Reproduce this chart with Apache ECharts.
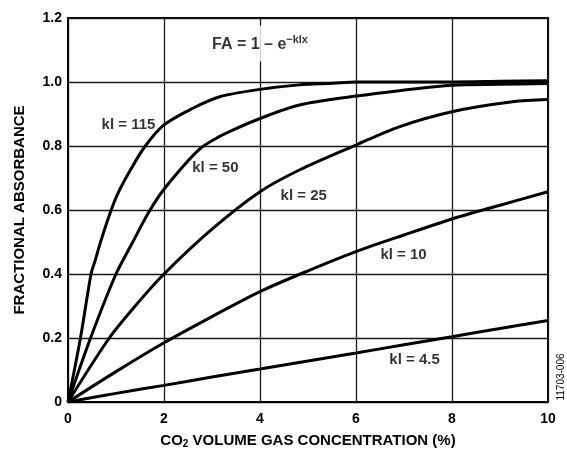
<!DOCTYPE html>
<html lang="en">
<head>
    <meta charset="UTF-8">
    <title>Fractional absorbance vs CO2 concentration</title>
    <style>
        html, body { margin: 0; padding: 0; background: #fff; }
        #container { width: 567px; height: 450px; }
    </style>
</head>
<body>
    <div id="container"></div>
    <script src="https://cdn.jsdelivr.net/npm/echarts@6/dist/echarts.min.js"></script>
    <script>
        // curves (x = CO2 %, y = fractional absorbance)
        const kl115X = [0, 0.26, 0.48, 0.57, 0.69, 0.9, 1.04, 1.3, 1.61, 2, 2.6, 3.16, 4, 4.82, 5.52, 6, 7, 8, 9, 10];
        const kl115Y = [0, 0.2, 0.4, 0.444, 0.506, 0.6, 0.652, 0.725, 0.8, 0.866, 0.918, 0.954, 0.977, 0.991, 0.996, 1.0, 1.0, 1.0, 1.002, 1.004];

        const kl50X = [0, 0.47, 1.0, 1.35, 1.67, 2, 2.74, 3.16, 3.51, 4, 4.82, 6, 6.9, 8, 9, 10];
        const kl50Y = [0, 0.2, 0.4, 0.5, 0.59, 0.665, 0.79, 0.83, 0.855, 0.886, 0.928, 0.956, 0.973, 0.99, 0.993, 0.995];

        const kl25X = [0, 0.86, 1.4, 2, 3, 4, 4.82, 6, 6.9, 8, 9.26, 10];
        const kl25Y = [0, 0.2, 0.3, 0.4, 0.54, 0.657, 0.725, 0.803, 0.86, 0.907, 0.938, 0.945];

        const kl10X = [0, 1, 2, 3, 4, 5, 6, 7, 8, 9, 10];
        const kl10Y = [0, 0.095, 0.185, 0.267, 0.345, 0.41, 0.47, 0.522, 0.572, 0.615, 0.657];

        const kl45X = [0, 1, 2, 3, 4, 5, 6, 7, 8, 9, 10];
        const kl45Y = [0, 0.027, 0.052, 0.078, 0.103, 0.128, 0.153, 0.179, 0.204, 0.23, 0.255];

        // curve labels, anchored in data coordinates
        const labelText = ['kl = 115', 'kl = 50', 'kl = 25', 'kl = 10', 'kl = 4.5'];
        const labelX = [1.26, 3.07, 4.91, 6.99, 7.22];
        const labelY = [0.866, 0.731, 0.644, 0.459, 0.131];

        const xTicks = [0, 2, 4, 6, 8, 10];
        const yTicks = [0, 0.2, 0.4, 0.6, 0.8, 1.0, 1.2];

        const FONT = '"Liberation Sans", Arial, Helvetica, sans-serif';

        function pairs(xs, ys) {
            return xs.map((x, i) => [x, ys[i]]);
        }

        function curve(name, xs, ys) {
            return {
                name: name,
                type: 'line',
                data: pairs(xs, ys),
                smooth: 0.3,
                symbol: 'none',
                lineStyle: { color: '#000', width: 3 },
                silent: true,
                z: 3
            };
        }

        const labelData = labelText.map((t, i) => ({ value: [labelX[i], labelY[i]], name: t }));
        labelData.push({
            value: [4, 1.12],
            name: 'eq',
            label: {
                formatter: '{m|FA = 1 – e}{sup|−klx}',
                backgroundColor: '#fff',
                padding: [9, 8, 8, 8],
                rich: {
                    m: { fontFamily: FONT, fontWeight: 'bold', fontSize: 16, lineHeight: 19, color: '#000' },
                    sup: { fontFamily: FONT, fontWeight: 'bold', fontSize: 11, lineHeight: 11, verticalAlign: 'top', color: '#000' }
                }
            }
        });

        const option = {
            animation: false,
            backgroundColor: '#fff',
            grid: {
                left: 68, right: 19, top: 18, bottom: 48,
                show: true,
                borderColor: '#000',
                borderWidth: 2,
                outerBoundsMode: 'none'
            },
            xAxis: {
                type: 'value',
                min: 0, max: 10, interval: 2,
                name: '{t|CO}{sub|2}{t| VOLUME GAS CONCENTRATION (%)}',
                nameLocation: 'middle',
                nameGap: 30,
                nameTextStyle: {
                    rich: {
                        t: { fontFamily: FONT, fontWeight: 'bold', fontSize: 15, lineHeight: 17, color: '#000' },
                        sub: { fontFamily: FONT, fontWeight: 'bold', fontSize: 10, lineHeight: 10, verticalAlign: 'bottom', color: '#000' }
                    }
                },
                axisLine: { show: true, lineStyle: { color: '#000', width: 2 } },
                axisTick: { show: false },
                axisLabel: {
                    margin: 10,
                    fontFamily: FONT, fontWeight: 'bold', fontSize: 14, color: '#000',
                    formatter: v => xTicks.includes(v) ? String(v) : ''
                },
                splitLine: { show: true, lineStyle: { color: '#1a1a1a', width: 1.3 } }
            },
            yAxis: {
                type: 'value',
                min: 0, max: 1.2, interval: 0.2,
                name: 'FRACTIONAL ABSORBANCE',
                nameLocation: 'middle',
                nameRotate: 90,
                nameGap: 41,
                nameTextStyle: { fontFamily: FONT, fontWeight: 'bold', fontSize: 15, color: '#000' },
                axisLine: { show: true, lineStyle: { color: '#000', width: 2 } },
                axisTick: { show: false },
                axisLabel: {
                    margin: 6,
                    fontFamily: FONT, fontWeight: 'bold', fontSize: 14, color: '#000',
                    formatter: v => {
                        const t = yTicks.find(y => Math.abs(y - v) < 1e-6);
                        if (t === undefined) return '';
                        return t === 0 ? '0' : t.toFixed(1);
                    }
                },
                splitLine: { show: true, lineStyle: { color: '#1a1a1a', width: 1.3 } }
            },
            series: [
                curve('kl = 115', kl115X, kl115Y),
                curve('kl = 50', kl50X, kl50Y),
                curve('kl = 25', kl25X, kl25Y),
                curve('kl = 10', kl10X, kl10Y),
                curve('kl = 4.5', kl45X, kl45Y),
                {
                    name: 'labels',
                    type: 'scatter',
                    symbolSize: 0,
                    silent: true,
                    z: 5,
                    data: labelData,
                    label: {
                        show: true,
                        position: 'inside',
                        formatter: p => p.name,
                        fontFamily: FONT, fontWeight: 'bold', fontSize: 15, color: '#000'
                    }
                }
            ],
            graphic: [
                {
                    type: 'text',
                    x: 561, y: 377,
                    rotation: Math.PI / 2,
                    style: {
                        text: '11703-006',
                        fontFamily: FONT, fontSize: 10, fill: '#000',
                        align: 'center', verticalAlign: 'middle'
                    }
                }
            ]
        };

        const chart = echarts.init(document.getElementById('container'), null, { renderer: 'canvas' });
        chart.setOption(option);
    </script>
</body>
</html>
